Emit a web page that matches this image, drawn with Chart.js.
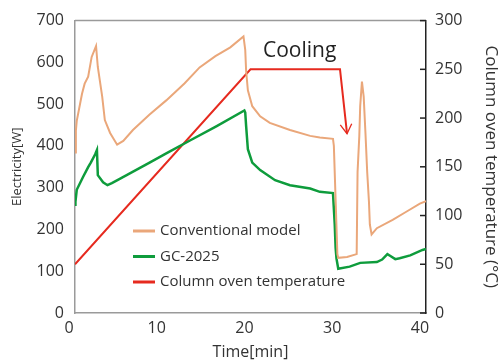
<!DOCTYPE html>
<html>
<head>
<meta charset="utf-8">
<script src="https://cdn.jsdelivr.net/npm/chart.js@4/dist/chart.umd.min.js"></script>
<style>
  html, body { margin: 0; padding: 0; background: #fff; }
  #wrap { width: 501px; height: 363px; }
</style>
</head>
<body>
<div id="wrap"><canvas id="myChart" width="501" height="363"></canvas></div>
<script>
const convTime = [0, 0.1, 0.2, 0.8, 1.1, 1.5, 1.9, 2.4, 2.6, 3.1, 3.4, 4.0, 4.8, 5.5, 6.6, 8.5, 10.4, 12.5, 14.2, 16.0, 17.7, 19.2, 19.4, 19.5, 19.7, 20.2, 21.1, 22.2, 24.5, 26.8, 27.9, 29.4, 29.5, 29.9, 30.0, 31.0, 32.1, 32.2, 32.4, 32.5, 32.7, 32.9, 33.1, 33.3, 33.5, 33.6, 33.8, 34.4, 36.2, 37.8, 39.3, 40];
const convPower = [384, 436, 460, 525, 549, 566, 613, 639, 589, 518, 462, 431, 403, 412, 438, 475, 509, 550, 588, 615, 636, 662, 630, 580, 533, 495, 471, 455, 438, 424, 420, 417, 400, 141, 132, 134, 141, 337, 424, 495, 554, 518, 431, 337, 266, 212, 188, 203, 223, 243, 262, 268];

const gcTime = [0, 0.05, 0.2, 0.9, 1.5, 1.8, 2.3, 2.5, 2.6, 3.2, 3.7, 4.2, 5.1, 8.5, 10.4, 13.1, 16.1, 19.3, 19.4, 19.5, 19.7, 20.2, 21.1, 22.8, 24.5, 26.8, 27.9, 29.4, 29.6, 29.7, 29.8, 30.0, 31.3, 32.5, 34.4, 35.0, 35.6, 35.9, 36.5, 37.0, 38.2, 39.6, 40];
const gcPower = [259, 266, 295, 325, 349, 360, 380, 390, 330, 313, 306, 311, 321, 360, 382, 413, 447, 485, 480, 448, 392, 360, 342, 318, 306, 298, 290, 287, 212, 156, 130, 106, 111, 120, 122, 128, 141, 137, 129, 131, 138, 151, 153];

const tempTime = [0, 20, 30.2, 31.0];
const tempValue = [50, 250, 250, 184];

const seriesNames = ['Conventional model', 'GC-2025', 'Column oven temperature'];
const xTicks = [0, 10, 20, 30, 40];
const cooling = { label: 'Cooling', t: 25.6, temp: 269 };

const tan = '#eaa77a';
const green = '#0e9c3c';
const red = '#e62a1f';
const txt = '#333333';
const font = '"Open Sans", "DejaVu Sans", sans-serif';

function pairs(xs, ys) {
  return xs.map((x, i) => ({ x: x, y: ys[i] }));
}

const extras = {
  id: 'extras',
  afterDraw(chart) {
    const ctx = chart.ctx;
    const a = chart.chartArea;
    const x = chart.scales.x, y2 = chart.scales.y2;
    ctx.save();
    // top frame line
    ctx.strokeStyle = '#9a9a9a';
    ctx.lineWidth = 1.5;
    ctx.beginPath();
    ctx.moveTo(a.left, a.top);
    ctx.lineTo(a.right, a.top);
    ctx.stroke();
    // right axis inward ticks
    ctx.strokeStyle = '#222';
    ctx.lineWidth = 1.5;
    y2.ticks.forEach(t => {
      const py = y2.getPixelForValue(t.value);
      ctx.beginPath();
      ctx.moveTo(a.right - 6, py);
      ctx.lineTo(a.right, py);
      ctx.stroke();
    });
    // arrow head at end of cooling line
    const n = tempTime.length;
    const x1 = x.getPixelForValue(tempTime[n - 2]), y1 = y2.getPixelForValue(tempValue[n - 2]);
    const xe = x.getPixelForValue(tempTime[n - 1]), ye = y2.getPixelForValue(tempValue[n - 1]);
    const ang = Math.atan2(ye - y1, xe - x1);
    ctx.strokeStyle = red;
    ctx.lineWidth = 1.3;
    ctx.beginPath();
    ctx.moveTo(xe - 11 * Math.cos(ang - 0.55), ye - 11 * Math.sin(ang - 0.55));
    ctx.lineTo(xe, ye);
    ctx.lineTo(xe - 11 * Math.cos(ang + 0.55), ye - 11 * Math.sin(ang + 0.55));
    ctx.stroke();
    // Cooling label
    ctx.fillStyle = '#222';
    ctx.font = '21px ' + font;
    ctx.textAlign = 'center';
    ctx.textBaseline = 'middle';
    ctx.fillText(cooling.label, x.getPixelForValue(cooling.t), y2.getPixelForValue(cooling.temp));
    // legend
    const cols = [tan, green, red];
    ctx.font = '15px ' + font;
    ctx.textAlign = 'left';
    seriesNames.forEach((name, i) => {
      const ly = 231 + i * 25.5;
      ctx.strokeStyle = cols[i];
      ctx.lineWidth = 3;
      ctx.beginPath();
      ctx.moveTo(133, ly);
      ctx.lineTo(155, ly);
      ctx.stroke();
      ctx.fillStyle = txt;
      ctx.fillText(name, 160, ly);
    });
    ctx.restore();
  }
};

const ctx = document.getElementById('myChart');
const myChart = new Chart(ctx, {
  type: 'line',
  data: {
    datasets: [{
      label: seriesNames[0],
      data: pairs(convTime, convPower),
      borderColor: tan,
      borderWidth: 2,
      pointRadius: 0,
      yAxisID: 'y'
    }, {
      label: seriesNames[1],
      data: pairs(gcTime, gcPower),
      borderColor: green,
      borderWidth: 2.5,
      pointRadius: 0,
      yAxisID: 'y'
    }, {
      label: seriesNames[2],
      data: pairs(tempTime, tempValue),
      borderColor: red,
      borderWidth: 2,
      pointRadius: 0,
      yAxisID: 'y2'
    }]
  },
  options: {
    responsive: false,
    animation: false,
    devicePixelRatio: 1,
    layout: { padding: { top: 11.4, left: 0, right: 0, bottom: 0 } },
    plugins: { legend: { display: false }, tooltip: { enabled: false } },
    scales: {
      x: {
        type: 'linear', min: 0, max: 40,
        afterBuildTicks: s => { s.ticks = xTicks.map(v => ({ value: v })); },
        afterFit: s => { s.height = 50; },
        grid: { display: false, drawTicks: false },
        border: { color: '#9a9a9a', width: 1.5 },
        ticks: { color: txt, font: { family: font, size: 16 }, padding: 6, labelOffset: -6, maxRotation: 0 },
        title: { display: true, text: 'Time[min]', color: txt, font: { family: font, size: 16 }, padding: { top: 0, bottom: 1 } }
      },
      y: {
        position: 'left', min: 0, max: 700,
        ticks: { stepSize: 100, color: txt, font: { family: font, size: 16 }, padding: 11 },
        afterFit: s => { s.width = 75; },
        grid: { display: false, drawTicks: false },
        border: { color: '#9a9a9a', width: 1.5 },
        title: { display: true, text: 'Electricity[W]', color: txt, font: { family: font, size: 13 }, padding: { top: 9, bottom: 0 } }
      },
      y2: {
        position: 'right', min: 0, max: 300,
        ticks: { stepSize: 50, color: txt, font: { family: font, size: 16 }, padding: 9 },
        afterFit: s => { s.width = 75; },
        grid: { display: false, drawTicks: false },
        border: { color: '#222', width: 1.5 },
        title: { display: true, text: 'Column oven temperature (°C)', color: txt, font: { family: font, size: 17 }, padding: { top: 0, bottom: 4 } }
      }
    }
  },
  plugins: [extras]
});
</script>
</body>
</html>
